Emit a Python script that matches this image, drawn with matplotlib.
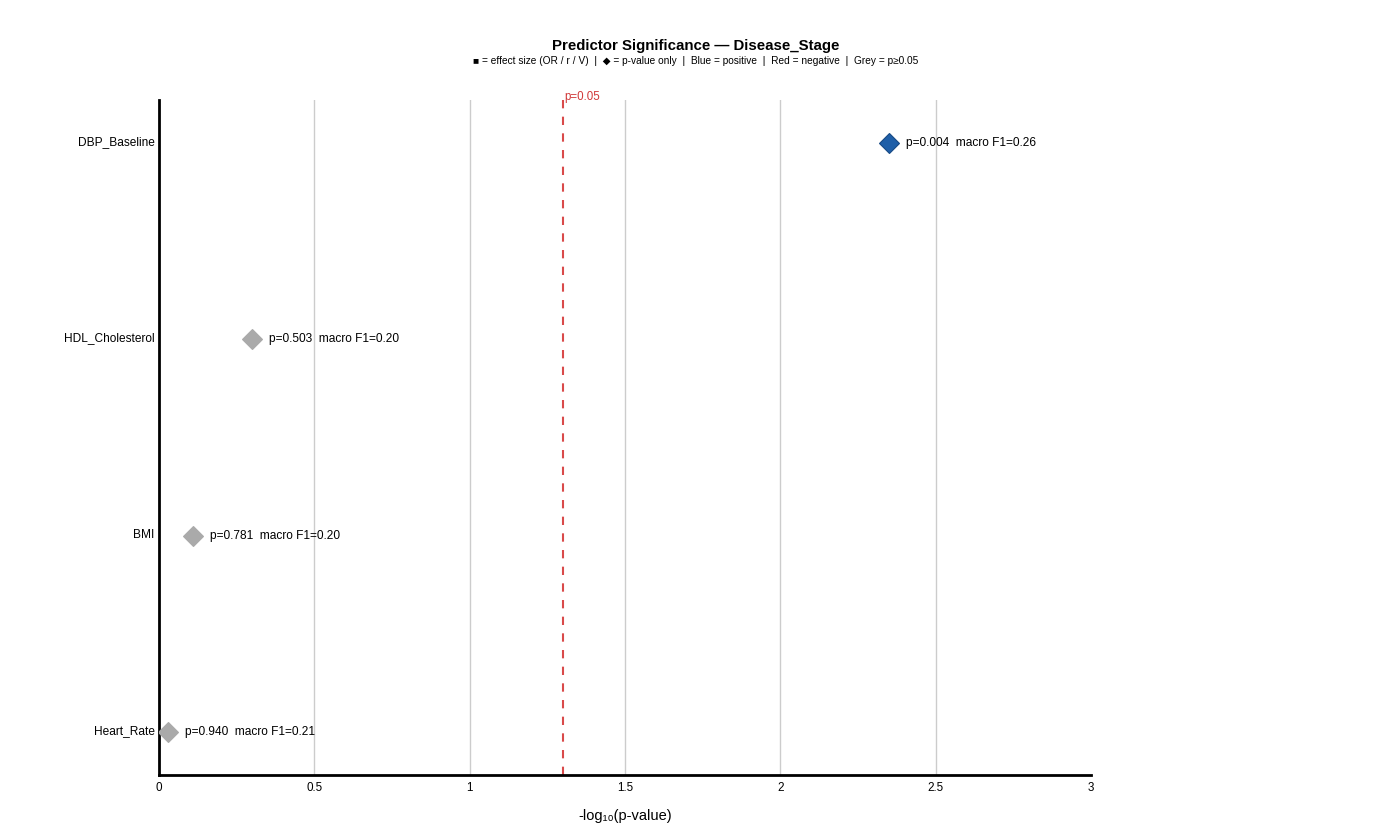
import matplotlib.pyplot as plt
from matplotlib.transforms import ScaledTranslation

plt.rcParams['font.family'] = ['Liberation Sans', 'DejaVu Sans']

# predictors, bottom to top
predictors = ['Heart_Rate', 'BMI', 'HDL_Cholesterol', 'DBP_Baseline']
neg_log_p = [0.029, 0.109, 0.30, 2.35]
p_labels = ['0.940', '0.781', '0.503', '0.004']
macro_f1 = ['0.21', '0.20', '0.20', '0.26']
colors = ['#aaaaaa', '#aaaaaa', '#aaaaaa', '#1f5fa8']
edges = ['#aaaaaa', '#aaaaaa', '#aaaaaa', '#174a85']
x_ticks = [0, 0.5, 1, 1.5, 2, 2.5, 3]
threshold = 1.301

fig = plt.figure(figsize=(13.92, 8.35), dpi=100)
ax = fig.add_axes([159 / 1392, 1 - 775 / 835, (1091 - 159) / 1392, (775 - 100) / 835])

for xv in x_ticks[1:-1]:
    ax.axvline(xv, color='#cccccc', lw=1, zorder=0)

ax.axvline(threshold, color='#d94a4a', lw=1.5, ls=(0, (4, 4)), zorder=1)
ax.text(threshold + 0.005, 3.205, 'p=0.05', color='#d03838', fontsize=8.3, ha='left', va='bottom')

for i, name in enumerate(predictors):
    ax.plot(neg_log_p[i], i, marker='D', ms=10.5, color=colors[i], mec=edges[i], mew=0.8, ls='none', zorder=3)
    ax.text(neg_log_p[i] + 0.055, i, f'p={p_labels[i]}  macro F1={macro_f1[i]}', fontsize=8.6,
            va='center', ha='left')

ax.set_xlim(0, 3)
ax.set_ylim(-0.22, 3.22)
ax.set_yticks(range(len(predictors)))
ax.set_yticklabels(predictors, fontsize=8.6)
ax.set_xticks(x_ticks)
ax.set_xticklabels(['0', '0.5', '1', '1.5', '2', '2.5', '3'], fontsize=8.4)
ax.tick_params(length=0, pad=3)
ax.tick_params(axis='x', pad=5)
up = ScaledTranslation(0, 0.025, fig.dpi_scale_trans)
for lab in ax.get_yticklabels():
    lab.set_transform(lab.get_transform() + up)
for s in ['top', 'right']:
    ax.spines[s].set_visible(False)
for s in ['left', 'bottom']:
    ax.spines[s].set_linewidth(2)
ax.set_xlabel('-log₁₀(p-value)', fontsize=10.5, labelpad=11)

fig.text(696 / 1392, 1 - 46 / 835, 'Predictor Significance — Disease_Stage', ha='center', va='center',
         fontsize=10.8, fontweight='bold')
fig.text(696 / 1392, 1 - 60.5 / 835,
         '■ = effect size (OR / r / V)  |  ◆ = p-value only  |  Blue = positive  |  Red = negative  |  Grey = p≥0.05',
         ha='center', va='center', fontsize=7.3)

fig.savefig('out.png', dpi=100)
